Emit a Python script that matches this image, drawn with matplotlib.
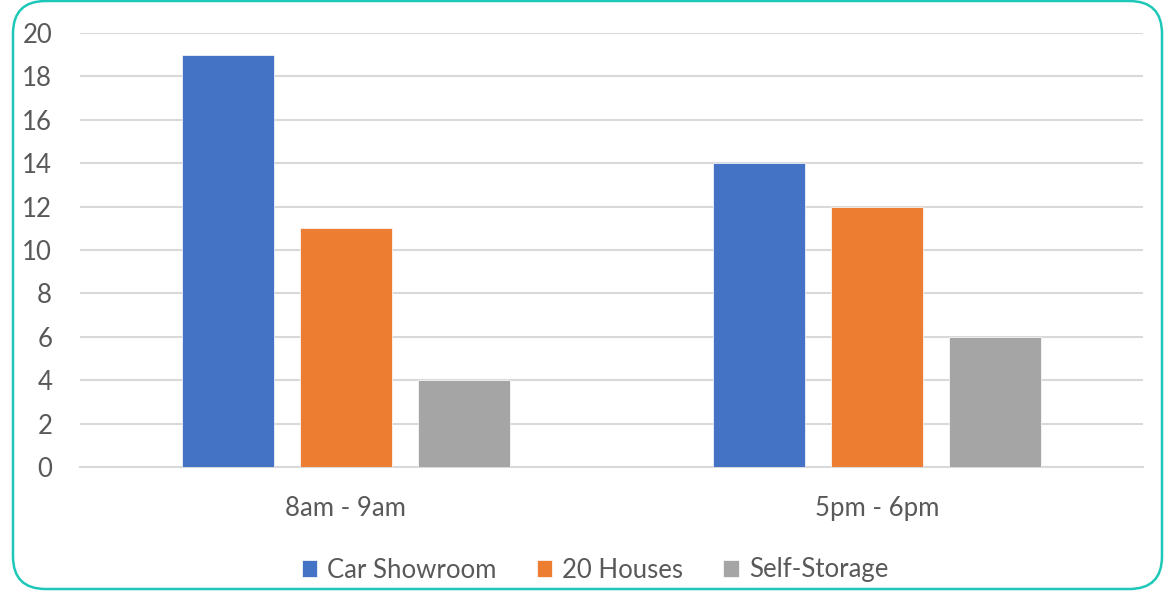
import matplotlib
matplotlib.use("Agg")
import matplotlib.pyplot as plt
from matplotlib.patches import FancyBboxPatch
import numpy as np

categories = ["8am - 9am", "5pm - 6pm"]
series_names = ["Car Showroom", "20 Houses", "Self-Storage"]
car_showroom = [19, 14]
houses_20 = [11, 12]
self_storage = [4, 6]
yticks = [0, 2, 4, 6, 8, 10, 12, 14, 16, 18, 20]

colors = ["#4472C4", "#ED7D31", "#A5A5A5"]
plt.rcParams['font.family'] = ['Lato', 'DejaVu Sans']

fig = plt.figure(figsize=(11.66, 5.98), dpi=100)
ax = fig.add_axes([80/1166, 1-467/598, (1143-80)/1166, (467-33)/598])

# border
border = FancyBboxPatch((13/1166, 9/598), (1162-13)/1166, (597-9)/598,
                        boxstyle="round,pad=0,rounding_size=0.028",
                        transform=fig.transFigure, fill=False,
                        edgecolor="#1EC8B8", linewidth=1.8, mutation_aspect=1166/598)
fig.patches.append(border)

x = np.arange(len(categories))
w = 0.173
offs = 0.222
for i, (vals, name) in enumerate(zip([car_showroom, houses_20, self_storage], series_names)):
    ax.bar(x + (i - 1) * offs, vals, width=w, color=colors[i], label=name,
           edgecolor="white", linewidth=0.5, zorder=3)

ax.set_xlim(-0.5, 1.5)
ax.set_ylim(0, 20)
ax.set_yticks(yticks)
ax.set_xticks(x)
ax.set_xticklabels(categories)
ax.yaxis.grid(True, color="#D9D9D9", linewidth=1.5, zorder=0)
for s in ["top", "right", "left"]:
    ax.spines[s].set_visible(False)
ax.spines["bottom"].set_color("#D9D9D9")
ax.spines["bottom"].set_linewidth(1.5)
ax.tick_params(axis="both", length=0, labelsize=18.5, labelcolor="#595959")
ax.tick_params(axis="y", pad=20)
ax.tick_params(axis="x", pad=21)

leg = fig.legend(loc="center", bbox_to_anchor=(595/1166, 1-570/598), ncol=3,
                 frameon=False, fontsize=18.5, handlelength=0.6, handleheight=0.6,
                 handletextpad=0.4, columnspacing=1.55)
for t in leg.get_texts():
    t.set_color("#595959")

fig.savefig("out.png", dpi=100)
